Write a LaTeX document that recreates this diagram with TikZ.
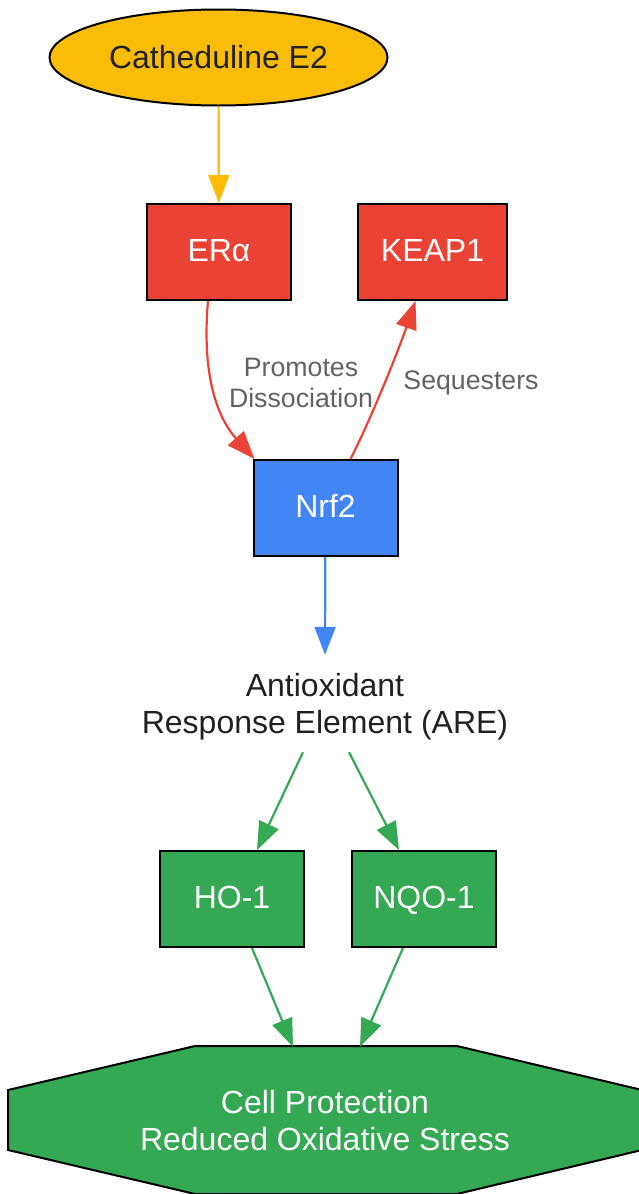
\documentclass[tikz,border=0pt]{standalone}
\usepackage{fontspec}
\setmainfont{Liberation Sans}
\usetikzlibrary{arrows.meta, shapes.geometric}
\definecolor{gyellow}{HTML}{FBBC05}
\definecolor{gred}{HTML}{EA4335}
\definecolor{gblue}{HTML}{4285F4}
\definecolor{ggreen}{HTML}{34A853}
\definecolor{gdark}{HTML}{202124}
\definecolor{ggray}{HTML}{5F6368}
\tikzstyle{box}=[draw=black, line width=2pt, minimum width=144pt, minimum height=96pt, text height=23pt, text depth=5pt, text=white, font=\fontsize{32}{37}\selectfont]
\tikzstyle{edge}=[line width=2.2pt, -{Triangle[length=28pt, width=21pt]}]
\tikzstyle{lbl}=[text=ggray, align=center, font=\fontsize{26.7}{31}\selectfont]

\begin{document}
\begin{tikzpicture}[x=1pt, y=-1pt]
        \useasboundingbox (0,0) rectangle (638,1194);
        \node[ellipse, draw=black, line width=2pt, fill=gyellow, minimum width=338pt, minimum height=96pt, inner sep=0pt, text=gdark, font=\fontsize{32}{37}\selectfont] (drug) at (218.5,57.5) {Catheduline E2};
        \node[box, fill=gred] (era) at (219,252) {ERα};
        \node[box, fill=gred, minimum width=149pt] (keap) at (432.5,252) {KEAP1};
        \node[box, fill=gblue] (nrf) at (325.5,508) {Nrf2};
        \node[minimum height=100pt, align=center, text=gdark, font=\fontsize{32}{37}\selectfont] (are) at (325,707) {Antioxidant\\Response Element (ARE)};
        \node[box, fill=ggreen] (ho) at (232,899) {HO-1};
        \node[box, fill=ggreen] (nqo) at (424,899) {NQO-1};
        % octagon
        \draw[line width=2pt, fill=ggreen] (195,1046) -- (457,1046) -- (642,1090) -- (642,1150) -- (457,1194) -- (195,1194) -- (8,1150) -- (8,1090) -- cycle;
        \node[align=center, text=white, minimum height=148pt, font=\fontsize{32}{37}\selectfont] (prot) at (325,1121) {Cell Protection\\Reduced Oxidative Stress};
        % edges
        \draw[edge, gyellow] (drug) -- (era);
        \draw[edge, gred] ([xshift=-11pt]era.south) .. controls (202,370) and (215,415) .. ([xshift=2pt]nrf.north west);
        \node[lbl] (lpro) at (301,383) {Promotes\\Dissociation};
        \draw[edge, gred] ([xshift=25pt]nrf.north) .. controls (368,425) and (395,360) .. ([xshift=-17pt]keap.south);
        \node[lbl] (lseq) at (471,383) {Sequesters};
        \draw[edge, gblue] (nrf) -- ([yshift=2pt]are.north);
        \draw[edge, ggreen] ([xshift=-22pt,yshift=5pt]are.south) -- ([xshift=25pt]ho.north);
        \draw[edge, ggreen] ([xshift=24pt,yshift=5pt]are.south) -- ([xshift=-25pt]nqo.north);
        \draw[edge, ggreen] ([xshift=20pt]ho.south) -- ([xshift=-32pt]prot.north);
        \draw[edge, ggreen] ([xshift=-21pt]nqo.south) -- ([xshift=35pt]prot.north);
    \end{tikzpicture}
\end{document}
